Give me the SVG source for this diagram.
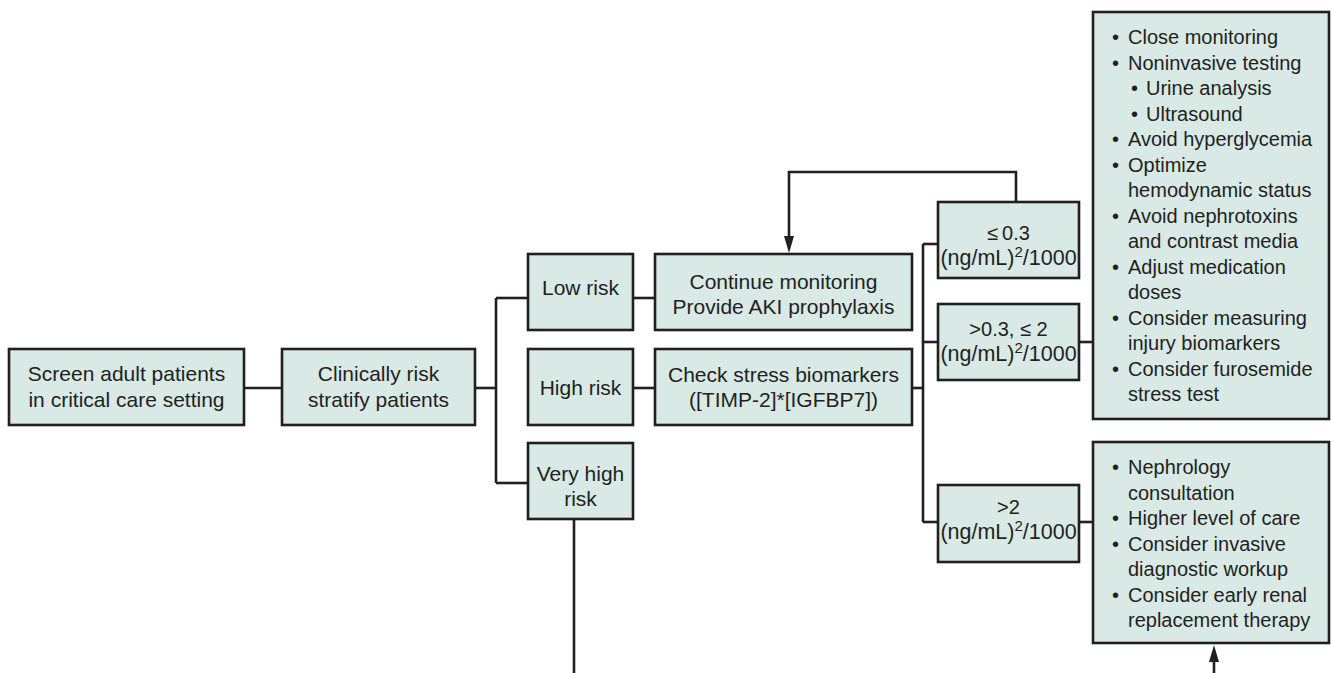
<svg xmlns="http://www.w3.org/2000/svg" width="1331" height="673" viewBox="0 0 1331 673">
<defs>
<style>
.box{fill:#d8e9e6;stroke:#231f20;stroke-width:2.6}
.ln{fill:none;stroke:#231f20;stroke-width:2.6}
text{font-family:"Liberation Sans",Arial,sans-serif;font-size:21px;fill:#231f20}
.c{text-anchor:middle}
.b{font-size:20px}
.u{font-size:21.5px}
</style>
</defs>
<rect width="1331" height="673" fill="#ffffff"/>
<g id="connectors">
<line class="ln" x1="244" y1="388" x2="282" y2="388"/>
<line class="ln" x1="475" y1="388" x2="496" y2="388"/>
<line class="ln" x1="496" y1="298" x2="496" y2="483"/>
<line class="ln" x1="496" y1="298" x2="528" y2="298"/>
<line class="ln" x1="496" y1="483" x2="528" y2="483"/>
<line class="ln" x1="633" y1="298" x2="655" y2="298"/>
<line class="ln" x1="633" y1="388" x2="655" y2="388"/>
<line class="ln" x1="912" y1="388" x2="923" y2="388"/>
<line class="ln" x1="923" y1="244" x2="923" y2="522"/>
<line class="ln" x1="923" y1="244" x2="938" y2="244"/>
<line class="ln" x1="923" y1="342" x2="938" y2="342"/>
<line class="ln" x1="923" y1="522" x2="938" y2="522"/>
<line class="ln" x1="1079" y1="342" x2="1093" y2="342"/>
<line class="ln" x1="1079" y1="522" x2="1093" y2="522"/>
<polyline class="ln" points="1016,202 1016,172 789,172 789,238"/>
<path d="M784,236 L794,236 L789,253 Z" fill="#231f20"/>
<line class="ln" x1="574" y1="519" x2="574" y2="673"/>
<line class="ln" x1="1214" y1="673" x2="1214" y2="660"/>
<path d="M1209,662 L1219,662 L1214,645 Z" fill="#231f20"/>
</g>
<g id="screen">
<rect class="box" x="9" y="349" width="235" height="76"/>
<text class="c" x="126.5" y="381">Screen adult patients</text>
<text class="c" x="126.5" y="407">in critical care setting</text>
</g>
<g id="stratify">
<rect class="box" x="282" y="349" width="193" height="76"/>
<text class="c" x="378.5" y="381">Clinically risk</text>
<text class="c" x="378.5" y="407">stratify patients</text>
</g>
<g id="low">
<rect class="box" x="528" y="254" width="105" height="76"/>
<text class="c" x="580.5" y="295">Low risk</text>
</g>
<g id="high">
<rect class="box" x="528" y="349" width="105" height="76"/>
<text class="c" x="580.5" y="395">High risk</text>
</g>
<g id="veryhigh">
<rect class="box" x="528" y="443" width="105" height="76"/>
<text class="c" x="580.5" y="481">Very high</text>
<text class="c" x="580.5" y="506">risk</text>
</g>
<g id="continue">
<rect class="box" x="655" y="254" width="257" height="76"/>
<text class="c" x="783.5" y="289">Continue monitoring</text>
<text class="c" x="783.5" y="314">Provide AKI prophylaxis</text>
</g>
<g id="check">
<rect class="box" x="655" y="349" width="257" height="76"/>
<text class="c" x="783.5" y="382">Check stress biomarkers</text>
<text class="c" x="783.5" y="407">([TIMP-2]*[IGFBP7])</text>
</g>
<g id="le03">
<rect class="box" x="938" y="202" width="141" height="76"/>
<text class="c b" x="1008.5" y="240">≤<tspan dx="4">0.3</tspan></text>
<text class="c u" x="1008.5" y="265">(ng/mL)<tspan font-size="15" dy="-8">2</tspan><tspan dy="8">/1000</tspan></text>
</g>
<g id="mid">
<rect class="box" x="938" y="304" width="141" height="76"/>
<text class="c b" x="1008.5" y="336">&gt;0.3, ≤ 2</text>
<text class="c u" x="1008.5" y="361">(ng/mL)<tspan font-size="15" dy="-8">2</tspan><tspan dy="8">/1000</tspan></text>
</g>
<g id="gt2">
<rect class="box" x="938" y="485" width="141" height="77"/>
<text class="c b" x="1008.5" y="514">&gt;2</text>
<text class="c u" x="1008.5" y="539">(ng/mL)<tspan font-size="15" dy="-8">2</tspan><tspan dy="8">/1000</tspan></text>
</g>
<g id="actions1" class="b">
<rect class="box" x="1093" y="12" width="236" height="407"/>
<text class="b" x="1112" y="44">•</text><text class="b" x="1128" y="44">Close monitoring</text>
<text class="b" x="1112" y="69.5">•</text><text class="b" x="1128" y="69.5">Noninvasive testing</text>
<text class="b" x="1131" y="95">•</text><text class="b" x="1146" y="95">Urine analysis</text>
<text class="b" x="1131" y="120.5">•</text><text class="b" x="1146" y="120.5">Ultrasound</text>
<text class="b" x="1112" y="146">•</text><text class="b" x="1128" y="146">Avoid hyperglycemia</text>
<text class="b" x="1112" y="171.5">•</text><text class="b" x="1128" y="171.5">Optimize</text>
<text class="b" x="1128" y="197">hemodynamic status</text>
<text class="b" x="1112" y="222.5">•</text><text class="b" x="1128" y="222.5">Avoid nephrotoxins</text>
<text class="b" x="1128" y="248">and contrast media</text>
<text class="b" x="1112" y="273.5">•</text><text class="b" x="1128" y="273.5">Adjust medication</text>
<text class="b" x="1128" y="299">doses</text>
<text class="b" x="1112" y="324.5">•</text><text class="b" x="1128" y="324.5">Consider measuring</text>
<text class="b" x="1128" y="350">injury biomarkers</text>
<text class="b" x="1112" y="375.5">•</text><text class="b" x="1128" y="375.5">Consider furosemide</text>
<text class="b" x="1128" y="401">stress test</text>
</g>
<g id="actions2">
<rect class="box" x="1093" y="442" width="236" height="201"/>
<text class="b" x="1112" y="474">•</text><text class="b" x="1128" y="474">Nephrology</text>
<text class="b" x="1128" y="499.5">consultation</text>
<text class="b" x="1112" y="525">•</text><text class="b" x="1128" y="525">Higher level of care</text>
<text class="b" x="1112" y="550.5">•</text><text class="b" x="1128" y="550.5">Consider invasive</text>
<text class="b" x="1128" y="576">diagnostic workup</text>
<text class="b" x="1112" y="601.5">•</text><text class="b" x="1128" y="601.5">Consider early renal</text>
<text class="b" x="1128" y="627">replacement therapy</text>
</g>
</svg>
